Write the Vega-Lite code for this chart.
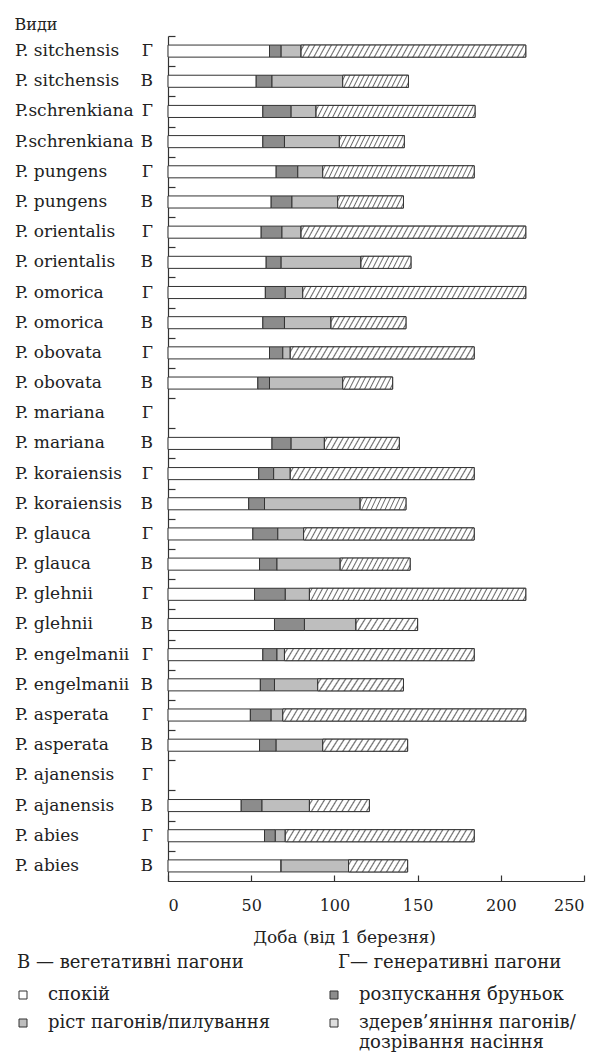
{
"$schema":"https://vega.github.io/schema/vega-lite/v6.json",
"autosize":"none",
"width":416,"height":845,
"padding":{"left":168,"top":36,"right":13,"bottom":178},
"background":"white",
"config":{"view":{"stroke":null},"font":"DejaVu Serif",
 "axis":{"labelFont":"DejaVu Serif","titleFont":"DejaVu Serif","domainColor":"#333","tickColor":"#333","domainWidth":1.2,"tickWidth":1.2,"labelColor":"#222","titleColor":"#222","titleFontWeight":"normal","grid":false},
 "legend":{"labelFont":"DejaVu Serif","labelColor":"#222","padding":0,"titlePadding":0}},
"data":{"values":[
{"row":"P. sitchensis Г","species":"P. sitchensis","shoot":"Г","note":"Г— генеративні пагони","rest":61,"bud":68,"growth":80,"mature":215},
{"row":"P. sitchensis В","species":"P. sitchensis","shoot":"В","note":"В — вегетативні пагони","rest":53,"bud":62.5,"growth":105,"mature":144.5},
{"row":"P. schrenkiana Г","species":"P.schrenkiana","shoot":"Г","note":"Г— генеративні пагони","rest":57,"bud":74,"growth":89,"mature":184.5},
{"row":"P. schrenkiana В","species":"P.schrenkiana","shoot":"В","note":"В — вегетативні пагони","rest":57,"bud":70,"growth":103,"mature":142},
{"row":"P. pungens Г","species":"P. pungens","shoot":"Г","note":"Г— генеративні пагони","rest":65,"bud":78,"growth":93,"mature":184},
{"row":"P. pungens В","species":"P. pungens","shoot":"В","note":"В — вегетативні пагони","rest":62,"bud":74.5,"growth":102,"mature":141.5},
{"row":"P. orientalis Г","species":"P. orientalis","shoot":"Г","note":"Г— генеративні пагони","rest":56,"bud":68.5,"growth":80,"mature":215},
{"row":"P. orientalis В","species":"P. orientalis","shoot":"В","note":"В — вегетативні пагони","rest":59,"bud":68,"growth":116,"mature":146},
{"row":"P. omorica Г","species":"P. omorica","shoot":"Г","note":"Г— генеративні пагони","rest":58.5,"bud":70.5,"growth":81,"mature":215},
{"row":"P. omorica В","species":"P. omorica","shoot":"В","note":"В — вегетативні пагони","rest":57,"bud":70,"growth":98,"mature":143},
{"row":"P. obovata Г","species":"P. obovata","shoot":"Г","note":"Г— генеративні пагони","rest":61,"bud":69,"growth":73.5,"mature":184},
{"row":"P. obovata В","species":"P. obovata","shoot":"В","note":"В — вегетативні пагони","rest":54,"bud":61,"growth":105,"mature":135},
{"row":"P. mariana Г","species":"P. mariana","shoot":"Г","note":"Г— генеративні пагони","rest":null,"bud":null,"growth":null,"mature":null},
{"row":"P. mariana В","species":"P. mariana","shoot":"В","note":"В — вегетативні пагони","rest":62.5,"bud":74,"growth":94,"mature":139},
{"row":"P. koraiensis Г","species":"P. koraiensis","shoot":"Г","note":"Г— генеративні пагони","rest":54.5,"bud":63.5,"growth":73.5,"mature":184},
{"row":"P. koraiensis В","species":"P. koraiensis","shoot":"В","note":"В — вегетативні пагони","rest":48.5,"bud":58,"growth":115.5,"mature":143},
{"row":"P. glauca Г","species":"P. glauca","shoot":"Г","note":"Г— генеративні пагони","rest":51,"bud":66,"growth":81.5,"mature":184},
{"row":"P. glauca В","species":"P. glauca","shoot":"В","note":"В — вегетативні пагони","rest":55,"bud":65.5,"growth":103.5,"mature":145.5},
{"row":"P. glehnii Г","species":"P. glehnii","shoot":"Г","note":"Г— генеративні пагони","rest":52,"bud":70.5,"growth":85,"mature":215},
{"row":"P. glehnii В","species":"P. glehnii","shoot":"В","note":"В — вегетативні пагони","rest":64,"bud":82,"growth":113,"mature":150},
{"row":"P. engelmanii Г","species":"P. engelmanii","shoot":"Г","note":"Г— генеративні пагони","rest":57,"bud":65.5,"growth":70,"mature":184},
{"row":"P. engelmanii В","species":"P. engelmanii","shoot":"В","note":"В — вегетативні пагони","rest":55.5,"bud":64,"growth":90,"mature":141.5},
{"row":"P. asperata Г","species":"P. asperata","shoot":"Г","note":"Г— генеративні пагони","rest":49.5,"bud":62,"growth":69,"mature":215},
{"row":"P. asperata В","species":"P. asperata","shoot":"В","note":"В — вегетативні пагони","rest":55,"bud":65,"growth":93,"mature":144},
{"row":"P. ajanensis Г","species":"P. ajanensis","shoot":"Г","note":"Г— генеративні пагони","rest":null,"bud":null,"growth":null,"mature":null},
{"row":"P. ajanensis В","species":"P. ajanensis","shoot":"В","note":"В — вегетативні пагони","rest":44,"bud":56.5,"growth":85,"mature":121},
{"row":"P. abies Г","species":"P. abies","shoot":"Г","note":"Г— генеративні пагони","rest":58,"bud":64.5,"growth":70.5,"mature":184},
{"row":"P. abies В","species":"P. abies","shoot":"В","note":"В — вегетативні пагони","rest":68,"bud":68,"growth":108.5,"mature":144}
]},
"encoding":{
 "y":{"field":"row","type":"nominal","title":"Види",
  "scale":{"domain":["P. sitchensis Г","P. sitchensis В","P. schrenkiana Г","P. schrenkiana В","P. pungens Г","P. pungens В","P. orientalis Г","P. orientalis В","P. omorica Г","P. omorica В","P. obovata Г","P. obovata В","P. mariana Г","P. mariana В","P. koraiensis Г","P. koraiensis В","P. glauca Г","P. glauca В","P. glehnii Г","P. glehnii В","P. engelmanii Г","P. engelmanii В","P. asperata Г","P. asperata В","P. ajanensis Г","P. ajanensis В","P. abies Г","P. abies В"],"paddingInner":0.6,"paddingOuter":0.3},
  "axis":{"titleAngle":0,"titleAlign":"left","titleBaseline":"middle","titleX":-154,"titleY":-12,"titleFontSize":16,"labels":false,"tickOffset":-15.09,"tickSize":-7}}
},
"layer":[
{"transform":[{"filter":"datum.rest != null"}],
 "mark":{"type":"bar","stroke":"#333","strokeWidth":1},
 "encoding":{"x":{"field":"rest","type":"quantitative","title":"Доба (від 1 березня)","scale":{"domain":[0,250],"nice":false},
   "axis":{"values":[0,50,100,150,200,250],"tickSize":-6,"labelPadding":22,"labelFontSize":16,"titleFontSize":17,"titleX":176,"titleY":56,"titleBaseline":"middle","titleAlign":"center"}},
  "color":{"datum":"спокій","scale":{"domain":["спокій","ріст пагонів/пилування","розпускання бруньок","здерев’яніння пагонів/\nдозрівання насіння"],"range":["#ffffff","#bebebe","#8c8c8c","#dedede"]},
   "legend":{"orient":"none","legendX":-154,"legendY":950,"columns":2,"columnPadding":54,"rowPadding":10,"title":null,"symbolType":"square","symbolSize":64,"symbolStrokeColor":"#333","symbolStrokeWidth":1,"labelFontSize":18,"labelOffset":16,"labelLimit":0,
    "encode":{"labels":{"update":{"lineBreak":{"value":"\n"},"baseline":{"value":"top"},"dy":{"value":-9}}}}}}}},
{"transform":[{"filter":"datum.rest != null"}],
 "mark":{"type":"bar","stroke":"#333","strokeWidth":1},
 "encoding":{"x":{"field":"rest","type":"quantitative","title":"Доба (від 1 березня)"},"x2":{"field":"bud"},
  "color":{"datum":"розпускання бруньок"}}},
{"transform":[{"filter":"datum.rest != null"}],
 "mark":{"type":"bar","stroke":"#333","strokeWidth":1},
 "encoding":{"x":{"field":"bud","type":"quantitative","title":"Доба (від 1 березня)"},"x2":{"field":"growth"},
  "color":{"datum":"ріст пагонів/пилування"}}},
{"transform":[{"filter":"datum.rest != null"}],
 "mark":{"type":"bar","stroke":"#333","strokeWidth":1},
 "encoding":{"x":{"field":"growth","type":"quantitative","title":"Доба (від 1 березня)"},"x2":{"field":"mature"},
  "color":{"datum":"здерев’яніння пагонів/\nдозрівання насіння"}}},
{"transform":[{"filter":"datum.mature != null && datum.shoot == 'В' && datum.mature - datum.growth < 38"}],
 "mark":{"type":"bar","stroke":"#333","strokeWidth":1,"fill":{"gradient":"linear","x1":0,"y1":0,"x2":1.106,"y2":0.1355,"stops":[
 {"offset":0.0255,"color":"#fff"},{"offset":0.0455,"color":"#6b6b6b"},{"offset":0.0655,"color":"#fff"},
 {"offset":0.1164,"color":"#fff"},{"offset":0.1364,"color":"#6b6b6b"},{"offset":0.1564,"color":"#fff"},
 {"offset":0.2073,"color":"#fff"},{"offset":0.2273,"color":"#6b6b6b"},{"offset":0.2473,"color":"#fff"},
 {"offset":0.2982,"color":"#fff"},{"offset":0.3182,"color":"#6b6b6b"},{"offset":0.3382,"color":"#fff"},
 {"offset":0.3891,"color":"#fff"},{"offset":0.4091,"color":"#6b6b6b"},{"offset":0.4291,"color":"#fff"},
 {"offset":0.48,"color":"#fff"},{"offset":0.5,"color":"#6b6b6b"},{"offset":0.52,"color":"#fff"},
 {"offset":0.5709,"color":"#fff"},{"offset":0.5909,"color":"#6b6b6b"},{"offset":0.6109,"color":"#fff"},
 {"offset":0.6618,"color":"#fff"},{"offset":0.6818,"color":"#6b6b6b"},{"offset":0.7018,"color":"#fff"},
 {"offset":0.7527,"color":"#fff"},{"offset":0.7727,"color":"#6b6b6b"},{"offset":0.7927,"color":"#fff"},
 {"offset":0.8436,"color":"#fff"},{"offset":0.8636,"color":"#6b6b6b"},{"offset":0.8836,"color":"#fff"},
 {"offset":0.9345,"color":"#fff"},{"offset":0.9545,"color":"#6b6b6b"},{"offset":0.9745,"color":"#fff"}]}},
 "encoding":{"x":{"field":"growth","type":"quantitative","title":"Доба (від 1 березня)"},"x2":{"field":"mature"}}},
{"transform":[{"filter":"datum.mature != null && datum.shoot == 'В' && datum.mature - datum.growth >= 38"}],
 "mark":{"type":"bar","stroke":"#333","strokeWidth":1,"fill":{"gradient":"linear","x1":0,"y1":0,"x2":1.0821,"y2":0.0986,"stops":[
 {"offset":0.0178,"color":"#fff"},{"offset":0.0333,"color":"#6b6b6b"},{"offset":0.0488,"color":"#fff"},
 {"offset":0.0845,"color":"#fff"},{"offset":0.1,"color":"#6b6b6b"},{"offset":0.1155,"color":"#fff"},
 {"offset":0.1512,"color":"#fff"},{"offset":0.1667,"color":"#6b6b6b"},{"offset":0.1822,"color":"#fff"},
 {"offset":0.2178,"color":"#fff"},{"offset":0.2333,"color":"#6b6b6b"},{"offset":0.2488,"color":"#fff"},
 {"offset":0.2845,"color":"#fff"},{"offset":0.3,"color":"#6b6b6b"},{"offset":0.3155,"color":"#fff"},
 {"offset":0.3512,"color":"#fff"},{"offset":0.3667,"color":"#6b6b6b"},{"offset":0.3822,"color":"#fff"},
 {"offset":0.4178,"color":"#fff"},{"offset":0.4333,"color":"#6b6b6b"},{"offset":0.4488,"color":"#fff"},
 {"offset":0.4845,"color":"#fff"},{"offset":0.5,"color":"#6b6b6b"},{"offset":0.5155,"color":"#fff"},
 {"offset":0.5512,"color":"#fff"},{"offset":0.5667,"color":"#6b6b6b"},{"offset":0.5822,"color":"#fff"},
 {"offset":0.6178,"color":"#fff"},{"offset":0.6333,"color":"#6b6b6b"},{"offset":0.6488,"color":"#fff"},
 {"offset":0.6845,"color":"#fff"},{"offset":0.7,"color":"#6b6b6b"},{"offset":0.7155,"color":"#fff"},
 {"offset":0.7512,"color":"#fff"},{"offset":0.7667,"color":"#6b6b6b"},{"offset":0.7822,"color":"#fff"},
 {"offset":0.8178,"color":"#fff"},{"offset":0.8333,"color":"#6b6b6b"},{"offset":0.8488,"color":"#fff"},
 {"offset":0.8845,"color":"#fff"},{"offset":0.9,"color":"#6b6b6b"},{"offset":0.9155,"color":"#fff"},
 {"offset":0.9512,"color":"#fff"},{"offset":0.9667,"color":"#6b6b6b"},{"offset":0.9822,"color":"#fff"}]}},
 "encoding":{"x":{"field":"growth","type":"quantitative","title":"Доба (від 1 березня)"},"x2":{"field":"mature"}}},
{"transform":[{"filter":"datum.mature != null && datum.shoot == 'Г' && datum.mature - datum.growth < 120"}],
 "mark":{"type":"bar","stroke":"#333","strokeWidth":1,"fill":{"gradient":"linear","x1":0,"y1":0,"x2":1.0367,"y2":0.0396,"stops":[
 {"offset":0.0084,"color":"#fff"},{"offset":0.0152,"color":"#6b6b6b"},{"offset":0.022,"color":"#fff"},
 {"offset":0.0387,"color":"#fff"},{"offset":0.0455,"color":"#6b6b6b"},{"offset":0.0523,"color":"#fff"},
 {"offset":0.069,"color":"#fff"},{"offset":0.0758,"color":"#6b6b6b"},{"offset":0.0826,"color":"#fff"},
 {"offset":0.0993,"color":"#fff"},{"offset":0.1061,"color":"#6b6b6b"},{"offset":0.1129,"color":"#fff"},
 {"offset":0.1296,"color":"#fff"},{"offset":0.1364,"color":"#6b6b6b"},{"offset":0.1432,"color":"#fff"},
 {"offset":0.1599,"color":"#fff"},{"offset":0.1667,"color":"#6b6b6b"},{"offset":0.1735,"color":"#fff"},
 {"offset":0.1902,"color":"#fff"},{"offset":0.197,"color":"#6b6b6b"},{"offset":0.2038,"color":"#fff"},
 {"offset":0.2205,"color":"#fff"},{"offset":0.2273,"color":"#6b6b6b"},{"offset":0.2341,"color":"#fff"},
 {"offset":0.2508,"color":"#fff"},{"offset":0.2576,"color":"#6b6b6b"},{"offset":0.2644,"color":"#fff"},
 {"offset":0.2811,"color":"#fff"},{"offset":0.2879,"color":"#6b6b6b"},{"offset":0.2947,"color":"#fff"},
 {"offset":0.3114,"color":"#fff"},{"offset":0.3182,"color":"#6b6b6b"},{"offset":0.325,"color":"#fff"},
 {"offset":0.3417,"color":"#fff"},{"offset":0.3485,"color":"#6b6b6b"},{"offset":0.3553,"color":"#fff"},
 {"offset":0.372,"color":"#fff"},{"offset":0.3788,"color":"#6b6b6b"},{"offset":0.3856,"color":"#fff"},
 {"offset":0.4023,"color":"#fff"},{"offset":0.4091,"color":"#6b6b6b"},{"offset":0.4159,"color":"#fff"},
 {"offset":0.4326,"color":"#fff"},{"offset":0.4394,"color":"#6b6b6b"},{"offset":0.4462,"color":"#fff"},
 {"offset":0.4629,"color":"#fff"},{"offset":0.4697,"color":"#6b6b6b"},{"offset":0.4765,"color":"#fff"},
 {"offset":0.4932,"color":"#fff"},{"offset":0.5,"color":"#6b6b6b"},{"offset":0.5068,"color":"#fff"},
 {"offset":0.5235,"color":"#fff"},{"offset":0.5303,"color":"#6b6b6b"},{"offset":0.5371,"color":"#fff"},
 {"offset":0.5538,"color":"#fff"},{"offset":0.5606,"color":"#6b6b6b"},{"offset":0.5674,"color":"#fff"},
 {"offset":0.5841,"color":"#fff"},{"offset":0.5909,"color":"#6b6b6b"},{"offset":0.5977,"color":"#fff"},
 {"offset":0.6144,"color":"#fff"},{"offset":0.6212,"color":"#6b6b6b"},{"offset":0.628,"color":"#fff"},
 {"offset":0.6447,"color":"#fff"},{"offset":0.6515,"color":"#6b6b6b"},{"offset":0.6583,"color":"#fff"},
 {"offset":0.675,"color":"#fff"},{"offset":0.6818,"color":"#6b6b6b"},{"offset":0.6886,"color":"#fff"},
 {"offset":0.7053,"color":"#fff"},{"offset":0.7121,"color":"#6b6b6b"},{"offset":0.7189,"color":"#fff"},
 {"offset":0.7356,"color":"#fff"},{"offset":0.7424,"color":"#6b6b6b"},{"offset":0.7492,"color":"#fff"},
 {"offset":0.7659,"color":"#fff"},{"offset":0.7727,"color":"#6b6b6b"},{"offset":0.7795,"color":"#fff"},
 {"offset":0.7962,"color":"#fff"},{"offset":0.803,"color":"#6b6b6b"},{"offset":0.8098,"color":"#fff"},
 {"offset":0.8265,"color":"#fff"},{"offset":0.8333,"color":"#6b6b6b"},{"offset":0.8401,"color":"#fff"},
 {"offset":0.8568,"color":"#fff"},{"offset":0.8636,"color":"#6b6b6b"},{"offset":0.8704,"color":"#fff"},
 {"offset":0.8871,"color":"#fff"},{"offset":0.8939,"color":"#6b6b6b"},{"offset":0.9007,"color":"#fff"},
 {"offset":0.9174,"color":"#fff"},{"offset":0.9242,"color":"#6b6b6b"},{"offset":0.931,"color":"#fff"},
 {"offset":0.9477,"color":"#fff"},{"offset":0.9545,"color":"#6b6b6b"},{"offset":0.9613,"color":"#fff"},
 {"offset":0.978,"color":"#fff"},{"offset":0.9848,"color":"#6b6b6b"},{"offset":0.9916,"color":"#fff"}]}},
 "encoding":{"x":{"field":"growth","type":"quantitative","title":"Доба (від 1 березня)"},"x2":{"field":"mature"}}},
{"transform":[{"filter":"datum.mature != null && datum.shoot == 'Г' && datum.mature - datum.growth >= 120"}],
 "mark":{"type":"bar","stroke":"#333","strokeWidth":1,"fill":{"gradient":"linear","x1":0,"y1":0,"x2":1.0286,"y2":0.0303,"stops":[
 {"offset":0.0066,"color":"#fff"},{"offset":0.0119,"color":"#6b6b6b"},{"offset":0.0172,"color":"#fff"},
 {"offset":0.0304,"color":"#fff"},{"offset":0.0357,"color":"#6b6b6b"},{"offset":0.041,"color":"#fff"},
 {"offset":0.0542,"color":"#fff"},{"offset":0.0595,"color":"#6b6b6b"},{"offset":0.0648,"color":"#fff"},
 {"offset":0.078,"color":"#fff"},{"offset":0.0833,"color":"#6b6b6b"},{"offset":0.0886,"color":"#fff"},
 {"offset":0.1018,"color":"#fff"},{"offset":0.1071,"color":"#6b6b6b"},{"offset":0.1124,"color":"#fff"},
 {"offset":0.1257,"color":"#fff"},{"offset":0.131,"color":"#6b6b6b"},{"offset":0.1363,"color":"#fff"},
 {"offset":0.1495,"color":"#fff"},{"offset":0.1548,"color":"#6b6b6b"},{"offset":0.1601,"color":"#fff"},
 {"offset":0.1733,"color":"#fff"},{"offset":0.1786,"color":"#6b6b6b"},{"offset":0.1839,"color":"#fff"},
 {"offset":0.1971,"color":"#fff"},{"offset":0.2024,"color":"#6b6b6b"},{"offset":0.2077,"color":"#fff"},
 {"offset":0.2209,"color":"#fff"},{"offset":0.2262,"color":"#6b6b6b"},{"offset":0.2315,"color":"#fff"},
 {"offset":0.2447,"color":"#fff"},{"offset":0.25,"color":"#6b6b6b"},{"offset":0.2553,"color":"#fff"},
 {"offset":0.2685,"color":"#fff"},{"offset":0.2738,"color":"#6b6b6b"},{"offset":0.2791,"color":"#fff"},
 {"offset":0.2923,"color":"#fff"},{"offset":0.2976,"color":"#6b6b6b"},{"offset":0.3029,"color":"#fff"},
 {"offset":0.3161,"color":"#fff"},{"offset":0.3214,"color":"#6b6b6b"},{"offset":0.3267,"color":"#fff"},
 {"offset":0.3399,"color":"#fff"},{"offset":0.3452,"color":"#6b6b6b"},{"offset":0.3505,"color":"#fff"},
 {"offset":0.3637,"color":"#fff"},{"offset":0.369,"color":"#6b6b6b"},{"offset":0.3743,"color":"#fff"},
 {"offset":0.3876,"color":"#fff"},{"offset":0.3929,"color":"#6b6b6b"},{"offset":0.3982,"color":"#fff"},
 {"offset":0.4114,"color":"#fff"},{"offset":0.4167,"color":"#6b6b6b"},{"offset":0.422,"color":"#fff"},
 {"offset":0.4352,"color":"#fff"},{"offset":0.4405,"color":"#6b6b6b"},{"offset":0.4458,"color":"#fff"},
 {"offset":0.459,"color":"#fff"},{"offset":0.4643,"color":"#6b6b6b"},{"offset":0.4696,"color":"#fff"},
 {"offset":0.4828,"color":"#fff"},{"offset":0.4881,"color":"#6b6b6b"},{"offset":0.4934,"color":"#fff"},
 {"offset":0.5066,"color":"#fff"},{"offset":0.5119,"color":"#6b6b6b"},{"offset":0.5172,"color":"#fff"},
 {"offset":0.5304,"color":"#fff"},{"offset":0.5357,"color":"#6b6b6b"},{"offset":0.541,"color":"#fff"},
 {"offset":0.5542,"color":"#fff"},{"offset":0.5595,"color":"#6b6b6b"},{"offset":0.5648,"color":"#fff"},
 {"offset":0.578,"color":"#fff"},{"offset":0.5833,"color":"#6b6b6b"},{"offset":0.5886,"color":"#fff"},
 {"offset":0.6018,"color":"#fff"},{"offset":0.6071,"color":"#6b6b6b"},{"offset":0.6124,"color":"#fff"},
 {"offset":0.6257,"color":"#fff"},{"offset":0.631,"color":"#6b6b6b"},{"offset":0.6363,"color":"#fff"},
 {"offset":0.6495,"color":"#fff"},{"offset":0.6548,"color":"#6b6b6b"},{"offset":0.6601,"color":"#fff"},
 {"offset":0.6733,"color":"#fff"},{"offset":0.6786,"color":"#6b6b6b"},{"offset":0.6839,"color":"#fff"},
 {"offset":0.6971,"color":"#fff"},{"offset":0.7024,"color":"#6b6b6b"},{"offset":0.7077,"color":"#fff"},
 {"offset":0.7209,"color":"#fff"},{"offset":0.7262,"color":"#6b6b6b"},{"offset":0.7315,"color":"#fff"},
 {"offset":0.7447,"color":"#fff"},{"offset":0.75,"color":"#6b6b6b"},{"offset":0.7553,"color":"#fff"},
 {"offset":0.7685,"color":"#fff"},{"offset":0.7738,"color":"#6b6b6b"},{"offset":0.7791,"color":"#fff"},
 {"offset":0.7923,"color":"#fff"},{"offset":0.7976,"color":"#6b6b6b"},{"offset":0.8029,"color":"#fff"},
 {"offset":0.8161,"color":"#fff"},{"offset":0.8214,"color":"#6b6b6b"},{"offset":0.8267,"color":"#fff"},
 {"offset":0.8399,"color":"#fff"},{"offset":0.8452,"color":"#6b6b6b"},{"offset":0.8505,"color":"#fff"},
 {"offset":0.8637,"color":"#fff"},{"offset":0.869,"color":"#6b6b6b"},{"offset":0.8743,"color":"#fff"},
 {"offset":0.8876,"color":"#fff"},{"offset":0.8929,"color":"#6b6b6b"},{"offset":0.8982,"color":"#fff"},
 {"offset":0.9114,"color":"#fff"},{"offset":0.9167,"color":"#6b6b6b"},{"offset":0.922,"color":"#fff"},
 {"offset":0.9352,"color":"#fff"},{"offset":0.9405,"color":"#6b6b6b"},{"offset":0.9458,"color":"#fff"},
 {"offset":0.959,"color":"#fff"},{"offset":0.9643,"color":"#6b6b6b"},{"offset":0.9696,"color":"#fff"},
 {"offset":0.9828,"color":"#fff"},{"offset":0.9881,"color":"#6b6b6b"},{"offset":0.9934,"color":"#fff"}]}},
 "encoding":{"x":{"field":"growth","type":"quantitative","title":"Доба (від 1 березня)"},"x2":{"field":"mature"}}},
{"mark":{"type":"text","align":"left","baseline":"middle","dx":-153,"fontSize":17,"font":"DejaVu Serif","color":"#222"},
 "encoding":{"x":{"datum":0,"type":"quantitative","title":"Доба (від 1 березня)"},"text":{"field":"species"},
  "opacity":{"field":"note","type":"nominal","scale":{"domain":["В — вегетативні пагони","Г— генеративні пагони"],"range":[1,1]},
   "legend":{"orient":"none","legendX":-169,"legendY":918,"columns":2,"columnPadding":76,"title":null,"symbolOpacity":0,"symbolSize":0,"symbolStrokeWidth":0,"labelOffset":0,"labelFontSize":18,"labelLimit":0}}}},
{"mark":{"type":"text","align":"right","baseline":"middle","dx":-15,"fontSize":17,"font":"DejaVu Serif","color":"#222"},
 "encoding":{"x":{"datum":0,"type":"quantitative","title":"Доба (від 1 березня)"},"text":{"field":"shoot"}}}
]
}
